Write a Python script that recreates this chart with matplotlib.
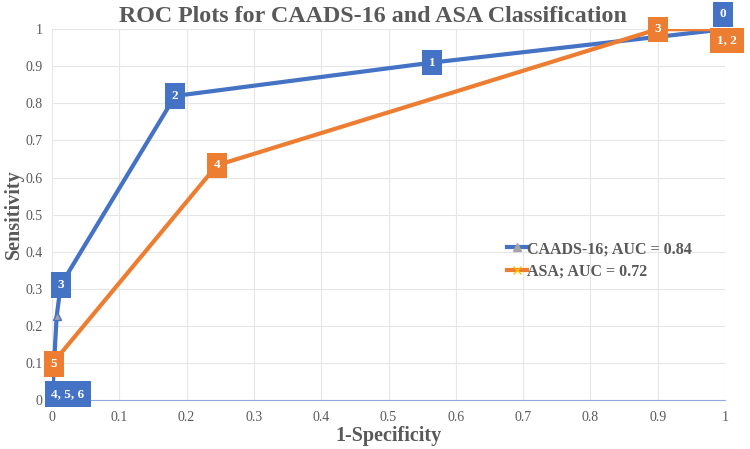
import matplotlib.pyplot as plt
from matplotlib.lines import Line2D

# data
caads_x = [0.0, 0.007, 0.013, 0.183, 0.565, 1.0]
caads_y = [0.0, 0.226, 0.31, 0.82, 0.91, 1.0]
caads_labels = ['4, 5, 6', '', '3', '2', '1', '0']

asa_x = [0.0, 0.245, 0.9, 1.0]
asa_y = [0.097, 0.633, 1.0, 1.0]
asa_labels = ['5', '4', '3', '1, 2']

ticks = [0, 0.1, 0.2, 0.3, 0.4, 0.5, 0.6, 0.7, 0.8, 0.9, 1]
tick_labels = ['0', '0.1', '0.2', '0.3', '0.4', '0.5', '0.6', '0.7', '0.8', '0.9', '1']

blue = '#4472C4'
orange = '#ED7D31'
grey = '#595959'

plt.rcParams['font.family'] = ['Liberation Serif', 'DejaVu Serif']

fig = plt.figure(figsize=(7.5, 4.49), dpi=100)
ax = fig.add_axes([0.0693, 0.109, 0.8974, 0.826])

ax.plot(caads_x, caads_y, color=blue, lw=3, marker='^', ms=6,
        mfc='#A5A5A5', mec=blue, zorder=3)
ax.plot(asa_x, asa_y, color=orange, lw=3, marker='x', ms=6,
        mec='#FFC000', zorder=3)

# label offsets in pixels (dx, dy)
caads_off = [(16, 6), (0, 0), (0, 0), (0, 0), (0, 0), (-2, 15)]
asa_off = [(2, 0), (0, 0), (0, 0), (2, -11)]

box_kw = dict(ha='center', va='center', color='white', fontsize=9.5,
              fontweight='bold', textcoords='offset pixels')
for x, y, s, o in zip(caads_x, caads_y, caads_labels, caads_off):
    if s:
        ax.annotate(s, (x, y), xytext=o, zorder=5,
                    bbox=dict(boxstyle='square,pad=0.5', fc=blue, ec='none'), **box_kw)
for x, y, s, o in zip(asa_x, asa_y, asa_labels, asa_off):
    ax.annotate(s, (x, y), xytext=o, zorder=6,
                bbox=dict(boxstyle='square,pad=0.5', fc=orange, ec='none'), **box_kw)

ax.set_xlim(0, 1)
ax.set_ylim(0, 1)
ax.set_xticks(ticks)
ax.set_xticklabels(tick_labels)
ax.set_yticks(ticks)
ax.set_yticklabels(tick_labels)
ax.tick_params(length=0, labelsize=10, colors=grey)
ax.tick_params(axis='x', pad=8)
ax.tick_params(axis='y', pad=7)
ax.grid(True, color='#E6E6E6', lw=0.8)
ax.set_axisbelow(True)
for side in ['top', 'right', 'left']:
    ax.spines[side].set_visible(False)
ax.spines['bottom'].set_color('#8FAADC')
ax.spines['bottom'].set_linewidth(0.8)

ax.set_title('ROC Plots for CAADS-16 and ASA Classification', fontsize=17.3,
             fontweight='bold', color=grey, pad=5, x=0.477)
ax.set_xlabel('1-Specificity', fontsize=14.5, fontweight='bold', color=grey, labelpad=1)
ax.set_ylabel('Sensitivity', fontsize=14.5, fontweight='bold', color=grey, labelpad=1)

handles = [Line2D([], [], color=blue, lw=3, marker='^', ms=6, mfc='#A5A5A5', mec='#A5A5A5'),
           Line2D([], [], color=orange, lw=3, marker='x', ms=6, mec='#FFC000')]
leg = ax.legend(handles, ['CAADS-16; AUC = 0.84', 'ASA; AUC = 0.72'],
                loc='center left', bbox_to_anchor=(0.654, 0.377), frameon=False,
                handlelength=1.3, handletextpad=0.0, labelspacing=0.4,
                prop={'weight': 'bold', 'size': 11.5})
for t in leg.get_texts():
    t.set_color(grey)

fig.savefig('out.png', dpi=100)
